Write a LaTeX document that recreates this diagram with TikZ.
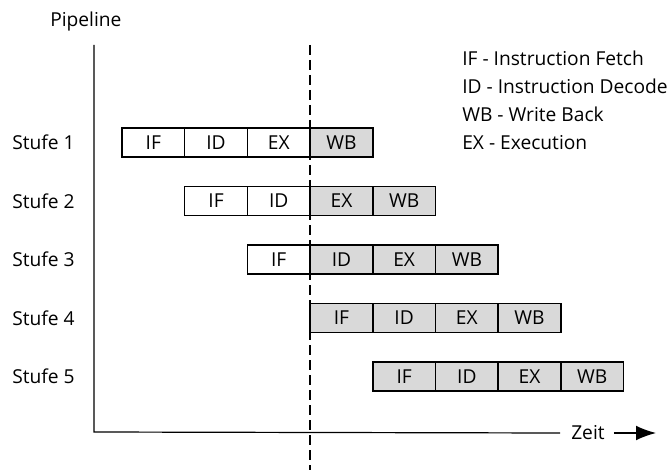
\documentclass[tikz,border=0pt]{standalone}
\usepackage{fontspec}
\setmainfont{Open Sans}
\usetikzlibrary{arrows.meta}

\tikzset{
  txt/.style={font=\fontsize{14.4}{17}\selectfont, text=black, inner sep=0pt},
  phase/.style={txt, draw=black, line width=1.1pt, minimum width=47pt, minimum height=21.75pt},
  done/.style={phase, fill=white},
  busy/.style={phase, fill=black!15},
  axis/.style={line width=0.9pt}
}

\begin{document}
\begin{tikzpicture}[x=0.75pt, y=-0.75pt]
    \useasboundingbox (0,0) rectangle (670,470);

    % Achsen
    \node[txt, anchor=west] (pipeline) at (50,22) {Pipeline};
    \coordinate (ytop) at (94,45);
    \coordinate (origin) at (94,432);
    \node[txt, anchor=west] (zeit) at (571,433) {Zeit};
    \coordinate (zeitend) at (656,433);
    \draw[axis] (ytop) -- (origin) -- (zeit.west -| 560,0);
    \draw[axis, -{Latex[length=15pt, width=11pt]}] (zeit.east) ++(9,0) -- (zeitend);

    % Zeitpunkt
    \coordinate (nowtop) at (310,45);
    \coordinate (nowbot) at (310,470);
    \draw[line width=1.1pt, dash pattern=on 7.5pt off 3.75pt] (nowtop) -- (nowbot);

    % Stufen mit ihren Phasen
    \foreach \i in {1,...,5} {
        \pgfmathsetmacro\ypos{142.5+58.5*(\i-1)}
        \node[txt, anchor=west] (stufe\i) at (12,\ypos) {Stufe \i};
        \foreach \p [count=\j] in {IF,ID,EX,WB} {
            \pgfmathtruncatemacro\k{\i+\j-2}
            \pgfmathsetmacro\xpos{153.35+62.7*\k}
            \ifnum\k>2 \def\st{busy}\else\def\st{done}\fi
            \node[\st] (p\i\p) at (\xpos,\ypos) {\p};
        }
    }

    % Legende
    \node[txt, anchor=west] (legif) at (462,58)  {IF - Instruction Fetch};
    \node[txt, anchor=west] (legid) at (462,86)  {ID - Instruction Decode};
    \node[txt, anchor=west] (legwb) at (462,114) {WB - Write Back};
    \node[txt, anchor=west] (legex) at (462,143) {EX - Execution};
\end{tikzpicture}
\end{document}
